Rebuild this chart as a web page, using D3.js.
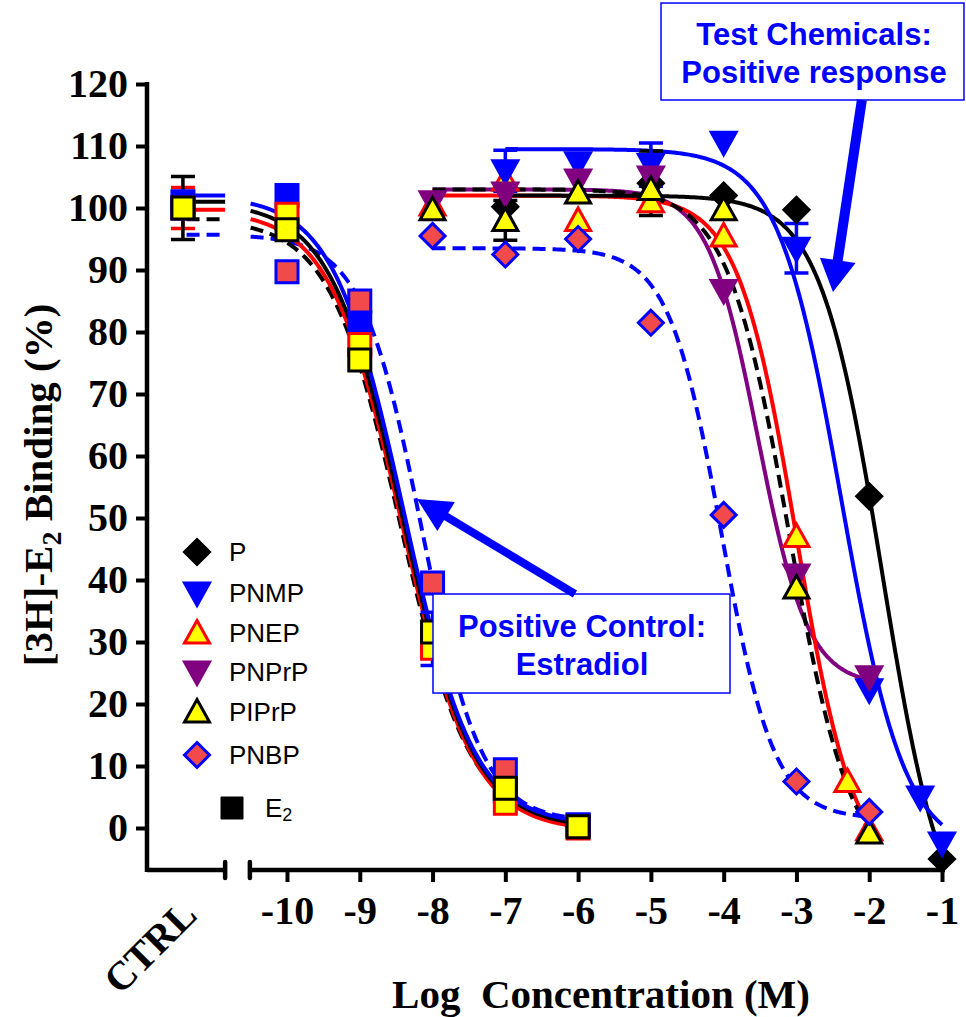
<!DOCTYPE html>
<html>
<head>
<meta charset="utf-8">
<script src="https://cdn.jsdelivr.net/npm/d3@7"></script>
<style>
  body { margin: 0; background: #fff; }
  text { font-family: "Liberation Serif", "Times New Roman", serif; font-weight: bold; }
  .sans { font-family: "Liberation Sans", Arial, sans-serif; }
</style>
</head>
<body>
<script>
var width = 966, height = 1017;

// log concentration (M); CTRL sits left of the axis break
var ctrl = -11.43;
var xTicks = [-10, -9, -8, -7, -6, -5, -4, -3, -2, -1];
var yTicks = [0, 10, 20, 30, 40, 50, 60, 70, 80, 90, 100, 110, 120];

// test chemicals: concentrations, % binding, error
var pConc = [-7, -5, -4, -3, -2, -1];
var pVal = [100.2, 104, 102, 99.7, 53.5, -5];
var pErr = [0, 5.2, 0, 0, 0, 0];

var pnmpConc = [-7, -6, -5, -4, -3, -2, -1.3, -1];
var pnmpVal = [106, 107.3, 107, 110.6, 93.5, 22.3, 5, -2.4];
var pnmpErr = [3.3, 0, 3.5, 0, 4, 0, 0, 0];

var pnepConc = [-8, -7, -6, -5, -4, -3, -2.3, -2];
var pnepVal = [100.5, 104.5, 98, 101, 95.5, 47, 7.5, -0.3];

var pnprpConc = [-8, -7, -6, -5, -4, -3, -2];
var pnprpVal = [101, 102.4, 104.5, 105, 86.7, 40.8, 24.4];

var piprpConc = [-8, -7, -6, -5, -4, -3, -2];
var piprpVal = [99.7, 98, 102.4, 103, 99.7, 38.7, -0.8];
var piprpErr = [0, 3.2, 0, 0, 0, 0, 0];

var pnbpConc = [-8, -7, -6, -5, -4, -3, -2];
var pnbpVal = [95.5, 92.5, 95, 81.5, 50.5, 7.5, 2.6];

// estradiol (positive control) runs, one per assay
var e2Conc = [ctrl, -10, -9, -8, -7, -6];
var e2BlueVal = [101, 102, 81.5, 30.5, 6, 0.5];
var e2BlueErr = [0, 0, 0, 4.3, 0, 0];
var e2RedVal = [100, 99, 78, 29, 4, 0];
var e2RedErr = [3.3, 0, 0, 1.6, 0, 0];
var e2PnbpVal = [100, 89.7, 85, 39.5, 9.4, 0.5];
var e2BlackVal = [100, 96.5, 75.5, 31.6, 6.4, 0.2];
var e2BlackErr = [5.1, 0, 0, 0, 0, 0];

// fitted sigmoid parameters: top, bottom, logIC50, hill slope
var pFit = [102, -20, -1.82, 1.02];
var pnmpFit = [109.5, -4, -2.38, 1.0];
var pnepFit = [102, -8, -3.0, 1.086];
var pnprpFit = [103, 23, -3.53, 1.27];
var piprpFit = [103, -8, -3.1, 1.02];
var pnbpFit = [93.5, 1.5, -4.03, 1.2];
var e2pFit = [101, 0, -8.42, 0.88];
var e2pnmpFit = [102, 0.5, -8.4, 0.9];
var e2pnepFit = [99.7, -0.5, -8.43, 0.88];
var e2piprpFit = [98.2, 0.5, -8.45, 0.9];
var e2pnbpFit = [95.7, 1, -8.15, 1.05];

var blue = "#0000ff", red = "#ff0000", purple = "#800080", yellow = "#ffff00", pink = "#f24a4a";

var svg = d3.select("body").append("svg")
  .attr("width", width)
  .attr("height", height);

var x = d3.scaleLinear().domain([-10, -1]).range([287, 942]);
var y = d3.scaleLinear().domain([0, 120]).range([828, 84]);
var axisY = 870, spineX = 147;

function sigmoid(p) {
  return function(c) { return p[1] + (p[0] - p[1]) / (1 + Math.pow(10, p[3] * (c - p[2]))); };
}

function symbol(type) {
  if (type == "diamond") return "M0,-12.5L12.5,0L0,12.5L-12.5,0Z";
  if (type == "tri") return "M0,-12.5L12.5,10L-12.5,10Z";
  if (type == "itri") return "M0,12.5L12.5,-10L-12.5,-10Z";
  return "M-11,-11h22v22h-22Z";
}

// ---- curves ----
var curves = [
  {fit: e2pnbpFit, from: -10.5, to: -6, color: blue, dash: "13,7", flat: true},
  {fit: e2piprpFit, from: -10.5, to: -6, color: "#000", dash: "13,7", flat: true},
  {fit: e2pnepFit, from: -10.5, to: -6, color: red, dash: null, flat: true},
  {fit: e2pFit, from: -10.5, to: -6, color: "#000", dash: null, flat: true},
  {fit: e2pnmpFit, from: -10.5, to: -6, color: blue, dash: null, flat: true},
  {fit: pnbpFit, from: -8, to: -2, color: blue, dash: "13,7"},
  {fit: pnprpFit, from: -8, to: -2, color: purple, dash: null},
  {fit: pnepFit, from: -8, to: -2, color: red, dash: null},
  {fit: piprpFit, from: -8, to: -2, color: "#000", dash: "13,7"},
  {fit: pFit, from: -7, to: -1, color: "#000", dash: null},
  {fit: pnmpFit, from: -7, to: -1, color: blue, dash: null}
];

var line = d3.line().x(d => x(d[0])).y(d => y(d[1]));
var gCurves = svg.append("g");
curves.forEach(function(c) {
  var f = sigmoid(c.fit);
  var pts = d3.range(c.from, c.to + 0.001, 0.02).map(v => [v, f(v)]);
  gCurves.append("path")
    .attr("d", line(pts))
    .attr("fill", "none")
    .attr("stroke", c.color)
    .attr("stroke-width", 4)
    .attr("stroke-dasharray", c.dash);
  if (c.flat) {
    gCurves.append("path")
      .attr("d", line([[ctrl + 0.05, c.fit[0]], [-10.85, c.fit[0]]]))
      .attr("fill", "none")
      .attr("stroke", c.color)
      .attr("stroke-width", 4)
      .attr("stroke-dasharray", c.dash);
  }
});

// ---- points ----
var series = [
  {conc: e2Conc, val: e2BlueVal, err: e2BlueErr, shape: "square", fill: blue, stroke: blue, ecol: blue},
  {conc: e2Conc, val: e2RedVal, err: e2RedErr, shape: "square", fill: yellow, stroke: red, ecol: red},
  {conc: e2Conc, val: e2PnbpVal, shape: "square", fill: pink, stroke: blue, ecol: blue},
  {conc: e2Conc, val: e2BlackVal, err: e2BlackErr, shape: "square", fill: yellow, stroke: "#000", ecol: "#000"},
  {conc: pConc, val: pVal, err: pErr, shape: "diamond", fill: "#000", stroke: "#000", ecol: "#000"},
  {conc: pnepConc, val: pnepVal, shape: "tri", fill: yellow, stroke: red, ecol: red},
  {conc: pnmpConc, val: pnmpVal, err: pnmpErr, shape: "itri", fill: blue, stroke: blue, ecol: blue},
  {conc: pnprpConc, val: pnprpVal, shape: "itri", fill: purple, stroke: purple, ecol: purple},
  {conc: piprpConc, val: piprpVal, err: piprpErr, shape: "tri", fill: yellow, stroke: "#000", ecol: "#000"},
  {conc: pnbpConc, val: pnbpVal, shape: "diamond", fill: pink, stroke: blue, ecol: blue}
];

var gErr = svg.append("g");
var gPts = svg.append("g");
series.forEach(function(s) {
  var data = s.conc.map((c, i) => ({c: c, v: s.val[i], e: s.err ? s.err[i] : 0}));
  data.filter(d => d.e > 0).forEach(function(d) {
    var cx = x(d.c);
    gErr.append("path")
      .attr("d", "M" + cx + "," + y(d.v + d.e) + "V" + y(d.v - d.e) +
        "M" + (cx - 12) + "," + y(d.v + d.e) + "H" + (cx + 12) +
        "M" + (cx - 12) + "," + y(d.v - d.e) + "H" + (cx + 12))
      .attr("stroke", s.ecol)
      .attr("stroke-width", 3.5)
      .attr("fill", "none");
  });
  gPts.selectAll(null)
    .data(data)
    .enter().append("path")
    .attr("d", symbol(s.shape))
    .attr("transform", d => "translate(" + x(d.c) + "," + y(d.v) + ")")
    .attr("fill", s.fill)
    .attr("stroke", s.stroke)
    .attr("stroke-width", 3)
    .attr("stroke-linejoin", "miter");
});

// ---- axes ----
var yAxis = svg.append("g")
  .attr("transform", "translate(" + spineX + ",0)")
  .call(d3.axisLeft(y).tickValues(yTicks).tickSize(11).tickPadding(8).tickFormat(d => String(d)));
yAxis.select(".domain").remove();
yAxis.selectAll(".tick line").attr("stroke-width", 4);
yAxis.selectAll(".tick text").style("font-size", "40px").style("font-family", "Liberation Serif").style("font-weight", "bold").attr("fill", "#000");
svg.append("line")
  .attr("x1", spineX).attr("x2", spineX)
  .attr("y1", y(120) - 2).attr("y2", axisY + 2)
  .attr("stroke", "#000").attr("stroke-width", 4.5);

var xAxis = svg.append("g")
  .attr("transform", "translate(0," + axisY + ")")
  .call(d3.axisBottom(x).tickValues(xTicks).tickSize(12).tickPadding(14).tickFormat(d => String(d)));
xAxis.select(".domain").remove();
xAxis.selectAll(".tick line").attr("stroke-width", 4);
xAxis.selectAll(".tick text").style("font-size", "40px").style("font-family", "Liberation Serif").style("font-weight", "bold").attr("fill", "#000");

var brk1 = x(-10.85), brk2 = x(-10.51);
svg.append("path")
  .attr("d", "M" + spineX + "," + axisY + "H" + brk1 + "M" + brk2 + "," + axisY + "H" + (x(-1) + 3))
  .attr("stroke", "#000").attr("stroke-width", 4.5).attr("fill", "none");
svg.append("path")
  .attr("d", "M" + brk1 + "," + (axisY - 8) + "V" + (axisY + 8) + "M" + brk2 + "," + (axisY - 8) + "V" + (axisY + 8))
  .attr("stroke", "#000").attr("stroke-width", 4.5).attr("stroke-linecap", "round");

svg.append("text")
  .attr("transform", "translate(" + (x(ctrl) - 33) + ",947) rotate(-45)")
  .attr("text-anchor", "middle")
  .attr("dominant-baseline", "central")
  .style("font-size", "40px")
  .text("CTRL");

svg.append("text")
  .attr("x", 601).attr("y", 1008)
  .attr("text-anchor", "middle")
  .style("font-size", "41px")
  .style("white-space", "pre")
  .text("Log  Concentration (M)");

var yt = svg.append("text")
  .attr("transform", "translate(52,485) rotate(-90)")
  .attr("text-anchor", "middle")
  .style("font-size", "41px");
yt.append("tspan").text("[3H]-E");
yt.append("tspan").attr("dy", 9).style("font-size", "28px").text("2");
yt.append("tspan").attr("dy", -9).text(" Binding (%)");

// ---- legend ----
var legendNames = ["P", "PNMP", "PNEP", "PNPrP", "PIPrP", "PNBP"];
var legendRows = [552, 593, 633, 672, 712, 755];
var legendSeries = [4, 6, 5, 7, 8, 9];
var gLeg = svg.append("g");
legendNames.forEach(function(n, i) {
  var s = series[legendSeries[i]];
  gLeg.append("path")
    .attr("d", symbol(s.shape))
    .attr("transform", "translate(197," + legendRows[i] + ")")
    .attr("fill", s.fill).attr("stroke", s.stroke).attr("stroke-width", 3);
  gLeg.append("text")
    .attr("class", "sans")
    .attr("x", 229).attr("y", legendRows[i])
    .attr("dominant-baseline", "central")
    .style("font-size", "26px").style("font-weight", "normal")
    .text(n);
});
gLeg.append("path")
  .attr("d", symbol("square"))
  .attr("transform", "translate(232,808)")
  .attr("fill", "#000").attr("stroke", "#000").attr("stroke-width", 1);
var e2t = gLeg.append("text")
  .attr("class", "sans")
  .attr("x", 265).attr("y", 808)
  .attr("dominant-baseline", "central")
  .style("font-size", "26px").style("font-weight", "normal");
e2t.append("tspan").text("E");
e2t.append("tspan").attr("dy", 7).style("font-size", "18px").text("2");

// ---- annotations (data coordinates) ----
function arrow(x1, y1, x2, y2, w, hl, hw) {
  var dx = x2 - x1, dy = y2 - y1, L = Math.hypot(dx, dy);
  var ux = dx / L, uy = dy / L, nx = -uy, ny = ux;
  var bx = x2 - ux * hl, by = y2 - uy * hl;
  var pts = [
    [x1 + nx * w / 2, y1 + ny * w / 2], [bx + nx * w / 2, by + ny * w / 2],
    [bx + nx * hw / 2, by + ny * hw / 2], [x2, y2],
    [bx - nx * hw / 2, by - ny * hw / 2], [bx - nx * w / 2, by - ny * w / 2],
    [x1 - nx * w / 2, y1 - ny * w / 2]
  ];
  svg.append("path").attr("d", "M" + pts.join("L") + "Z").attr("fill", blue);
}

var notes = [
  {box: [-4.861, -0.698, 133.06, 117.42], tx: -2.759, ty: [126.29, 120.16],
   lines: ["Test Chemicals:", "Positive response"],
   arrow: [-2.101, 117.42, -2.498, 86.45, 10, 32, 36]},
  {box: [-7.994, -3.913, 37.74, 21.77], tx: -5.947, ty: [30.81, 24.68],
   lines: ["Positive Control:", "Estradiol"],
   arrow: [-6.043, 37.74, -8.214, 53.06, 8, 34, 34]}
];
notes.forEach(function(n) {
  svg.append("rect")
    .attr("x", x(n.box[0])).attr("y", y(n.box[2]))
    .attr("width", x(n.box[1]) - x(n.box[0]))
    .attr("height", y(n.box[3]) - y(n.box[2]))
    .attr("fill", "#fff").attr("stroke", blue).attr("stroke-width", 1.5);
  n.lines.forEach(function(t, i) {
    svg.append("text")
      .attr("class", "sans")
      .attr("x", x(n.tx)).attr("y", y(n.ty[i]))
      .attr("text-anchor", "middle")
      .attr("fill", blue)
      .style("font-size", "31px")
      .text(t);
  });
  var a = n.arrow;
  arrow(x(a[0]), y(a[1]), x(a[2]), y(a[3]), a[4], a[5], a[6]);
});
</script>
</body>
</html>
